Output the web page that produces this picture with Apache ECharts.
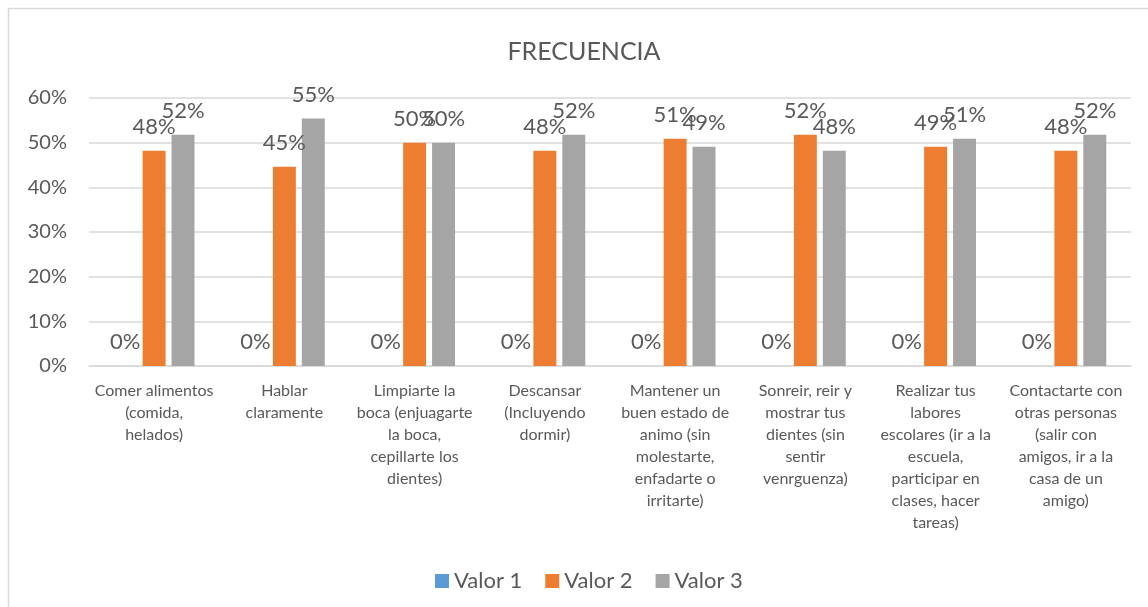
<!DOCTYPE html>
<html>
<head>
<meta charset="utf-8">
<script src="https://cdn.jsdelivr.net/npm/echarts@6/dist/echarts.min.js"></script>
<style>
  html, body { margin: 0; padding: 0; background: #fff; }
  #main { width: 1148px; height: 607px; }
</style>
</head>
<body>
<div id="main"></div>
<script>
// categorias del eje x (con los saltos de linea como en el original)
const categorias = [
  "Comer alimentos\n(comida,\nhelados)",
  "Hablar\nclaramente",
  "Limpiarte la\nboca (enjuagarte\nla boca,\ncepillarte los\ndientes)",
  "Descansar\n(Incluyendo\ndormir)",
  "Mantener un\nbuen estado de\nanimo (sin\nmolestarte,\nenfadarte o\nirritarte)",
  "Sonreir, reir y\nmostrar tus\ndientes (sin\nsentir\nvenrguenza)",
  "Realizar tus\nlabores\nescolares (ir a la\nescuela,\nparticipar en\nclases, hacer\ntareas)",
  "Contactarte con\notras personas\n(salir con\namigos, ir a la\ncasa de un\namigo)"
];

const valor1 = [0, 0, 0, 0, 0, 0, 0, 0];
const valor2 = [0.482, 0.446, 0.500, 0.482, 0.509, 0.518, 0.491, 0.482];
const valor3 = [0.518, 0.554, 0.500, 0.518, 0.491, 0.482, 0.509, 0.518];

const nombres = ["Valor 1", "Valor 2", "Valor 3"];
const colores = ["#5B9BD5", "#ED7D31", "#A5A5A5"];

const fuente = "Lato, 'Open Sans', sans-serif";
const gris = "#595959";

function pct(v) {
  return Math.round(v * 100) + "%";
}

function serie(nombre, datos, color) {
  return {
    name: nombre,
    type: "bar",
    data: datos,
    itemStyle: { color: color },
    barGap: "26%",
    barCategoryGap: "38%",
    label: {
      show: true,
      position: "top",
      distance: 13,
      fontSize: 22,
      fontFamily: fuente,
      color: gris,
      formatter: p => pct(p.value)
    }
  };
}

var myChart = echarts.init(document.getElementById("main"));

var option = {
  backgroundColor: "#fff",
  animation: false,
  textStyle: { fontFamily: fuente },
  graphic: [
    {
      type: "rect",
      shape: { x: 8.5, y: 8.5, width: 1160, height: 620 },
      style: { fill: "none", stroke: "#D9D9D9", lineWidth: 1.5 },
      silent: true
    }
  ],
  title: {
    text: "FRECUENCIA",
    left: 579,
    top: 34,
    textAlign: "center",
    textStyle: { fontSize: 25, fontWeight: "normal", color: gris, fontFamily: fuente }
  },
  legend: {
    data: nombres,
    left: 430,
    top: 565,
    icon: "rect",
    itemWidth: 14,
    itemHeight: 14,
    itemGap: 23,
    textStyle: { fontSize: 22, color: gris, fontFamily: fuente }
  },
  grid: {
    left: 89,
    right: 17,
    top: 98,
    bottom: 241
  },
  xAxis: {
    type: "category",
    data: categorias,
    axisTick: { show: false },
    axisLine: { lineStyle: { color: "#D9D9D9", width: 1.5 } },
    axisLabel: {
      interval: 0,
      margin: 14,
      fontSize: 16,
      lineHeight: 22,
      color: gris,
      fontFamily: fuente,
      align: "center"
    }
  },
  yAxis: {
    type: "value",
    min: 0,
    max: 0.6,
    interval: 0.1,
    axisLine: { show: false },
    axisTick: { show: false },
    splitLine: { lineStyle: { color: "#D9D9D9", width: 1.5 } },
    axisLabel: {
      margin: 22,
      fontSize: 20,
      color: gris,
      fontFamily: fuente,
      formatter: v => pct(v)
    }
  },
  series: [
    serie(nombres[0], valor1, colores[0]),
    serie(nombres[1], valor2, colores[1]),
    serie(nombres[2], valor3, colores[2])
  ]
};

myChart.setOption(option);
</script>
</body>
</html>
